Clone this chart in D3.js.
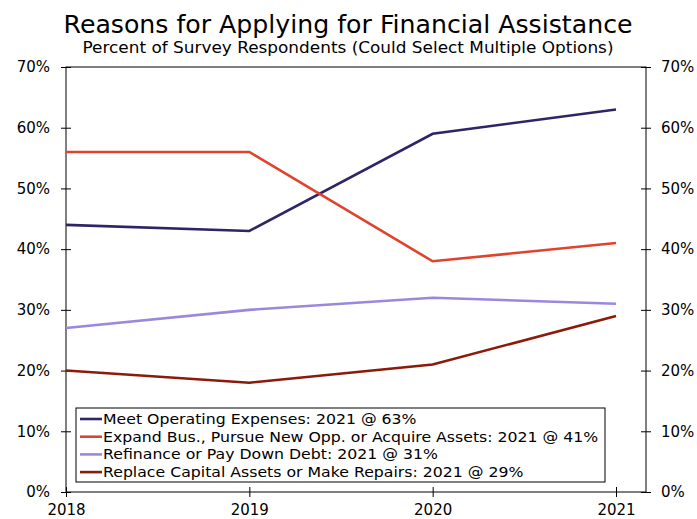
<!DOCTYPE html>
<html>
<head>
<meta charset="utf-8">
<script src="https://cdn.jsdelivr.net/npm/d3@7"></script>
<style>
  body { margin: 0; background: #fff; }
  svg { font-family: "DejaVu Sans", Verdana, sans-serif; }
</style>
</head>
<body>
<svg width="697" height="519"></svg>
<script>
// data
const years = [2018, 2019, 2020, 2021];
const seriesNames = [
  "Meet Operating Expenses",
  "Expand Bus., Pursue New Opp. or Acquire Assets",
  "Refinance or Pay Down Debt",
  "Replace Capital Assets or Make Repairs"
];
const meetOperating = [44, 43, 59, 63];
const expandBusiness = [56, 56, 38, 41];
const refinanceDebt = [27, 30, 32, 31];
const replaceAssets = [20, 18, 21, 29];
const seriesColors = ["#2e2566", "#e0432b", "#9b88dc", "#8b1a0a"];
const yTicks = [0, 10, 20, 30, 40, 50, 60, 70];

const series = [meetOperating, expandBusiness, refinanceDebt, replaceAssets];

const svg = d3.select("svg");

// layout
const plotLeft = 66, plotRight = 646, plotTop = 67, plotBottom = 492;

const x = d3.scaleLinear()
    .domain([2018, 2021])
    .range([plotLeft, 616]);

const y = d3.scaleLinear()
    .domain([0, 70])
    .range([plotBottom, plotTop]);

// titles
svg.append("text")
    .attr("x", 348)
    .attr("y", 33)
    .attr("text-anchor", "middle")
    .attr("font-size", 24)
    .attr("textLength", 569)
    .attr("lengthAdjust", "spacingAndGlyphs")
    .text("Reasons for Applying for Financial Assistance");

svg.append("text")
    .attr("x", 348)
    .attr("y", 53)
    .attr("text-anchor", "middle")
    .attr("font-size", 15)
    .attr("textLength", 531)
    .attr("lengthAdjust", "spacingAndGlyphs")
    .text("Percent of Survey Respondents (Could Select Multiple Options)");

// frame
svg.append("rect")
    .attr("x", plotLeft)
    .attr("y", plotTop)
    .attr("width", plotRight - plotLeft)
    .attr("height", plotBottom - plotTop)
    .attr("fill", "none")
    .attr("stroke", "#000")
    .attr("stroke-width", 1);

// left axis
const leftAxis = svg.append("g")
    .attr("transform", `translate(${plotLeft},0)`)
    .call(d3.axisLeft(y)
      .tickValues(yTicks)
      .tickSize(5)
      .tickPadding(11)
      .tickFormat(d => d + "%"));

// right axis
const rightAxis = svg.append("g")
    .attr("transform", `translate(${plotRight},0)`)
    .call(d3.axisRight(y)
      .tickValues(yTicks)
      .tickSize(5)
      .tickPadding(10)
      .tickFormat(d => d + "%"));

// bottom axis
const bottomAxis = svg.append("g")
    .attr("transform", `translate(0,${plotBottom})`)
    .call(d3.axisBottom(x)
      .tickValues(years)
      .tickSize(5)
      .tickPadding(7)
      .tickFormat(d3.format("d")));

// ticks cross the axis line
leftAxis.selectAll(".tick line").attr("x1", 5);
rightAxis.selectAll(".tick line").attr("x1", -5);
bottomAxis.selectAll(".tick line").attr("y1", -5);

[leftAxis, rightAxis, bottomAxis].forEach(a => {
  a.select(".domain").remove();
  a.selectAll("text")
    .attr("font-family", "DejaVu Sans, Verdana, sans-serif")
    .attr("font-size", 15)
    .attr("fill", "#000");
});

// lines
const line = d3.line()
    .x((d, i) => x(years[i]))
    .y(d => y(d));

svg.append("g")
  .selectAll("path")
  .data(series)
  .enter().append("path")
    .attr("d", line)
    .attr("fill", "none")
    .attr("stroke", (d, i) => seriesColors[i])
    .attr("stroke-width", 2.6);

// legend
const legend = svg.append("g")
    .attr("transform", "translate(76,408)");

legend.append("rect")
    .attr("width", 529)
    .attr("height", 74)
    .attr("fill", "#fff")
    .attr("stroke", "#000")
    .attr("stroke-width", 1);

const rows = legend.selectAll("g.row")
  .data(seriesNames)
  .enter().append("g")
    .attr("class", "row")
    .attr("transform", (d, i) => `translate(0,${11 + i * 17.7})`);

rows.append("line")
    .attr("x1", 4)
    .attr("x2", 26)
    .attr("stroke", (d, i) => seriesColors[i])
    .attr("stroke-width", 2.6);

// legend text is wider in the reference, so stretch it a bit
const legendStretch = 1.123;
rows.append("text")
    .attr("x", 27)
    .attr("dy", "0.35em")
    .attr("font-size", 14)
    .text((d, i) => `${d}: ${years[years.length - 1]} @ ${series[i][series[i].length - 1]}%`)
    .each(function() {
      d3.select(this)
        .attr("textLength", this.getComputedTextLength() * legendStretch)
        .attr("lengthAdjust", "spacingAndGlyphs");
    });
</script>
</body>
</html>
